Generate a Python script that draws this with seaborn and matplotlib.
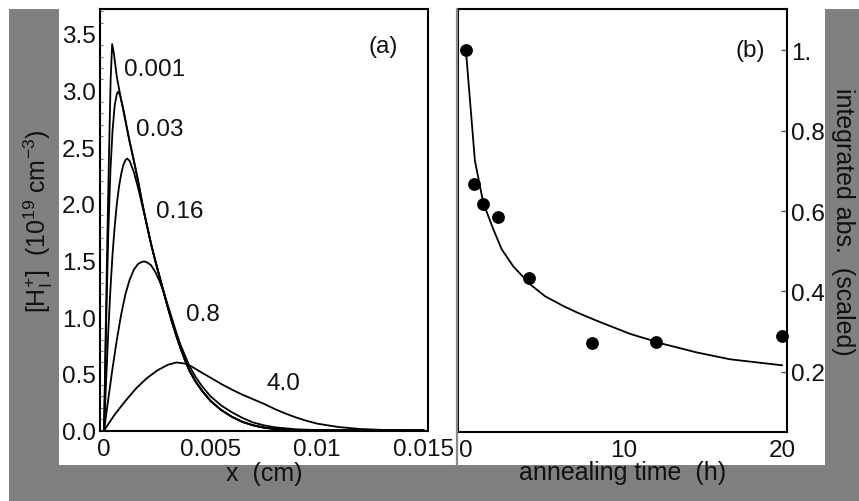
import numpy as np
import pandas as pd
import matplotlib
matplotlib.use("Agg")
import matplotlib.pyplot as plt
import seaborn as sns
from matplotlib.patches import Rectangle
from matplotlib.lines import Line2D

# ---------------- data: panel (a) depth profiles ----------------
curve_labels = ["0.001", "0.03", "0.16", "0.8", "4.0"]

x_001 = [0, 0.00008, 0.00016, 0.00024, 0.00031, 0.00038, 0.00046, 0.0006, 0.0008, 0.001,
         0.0012, 0.0014, 0.0016, 0.0018, 0.002, 0.0022, 0.0024, 0.0026, 0.0028, 0.003,
         0.0032, 0.0034, 0.0036, 0.0038, 0.004, 0.0043, 0.0046, 0.005, 0.0055, 0.006,
         0.0065, 0.007, 0.0075, 0.008, 0.009, 0.01, 0.012, 0.015]
y_001 = [0, 0.9, 1.75, 2.5, 3.1, 3.41, 3.33, 3.12, 2.92, 2.74,
         2.55, 2.38, 2.20, 2.00, 1.82, 1.65, 1.50, 1.36, 1.22, 1.08,
         0.95, 0.83, 0.72, 0.62, 0.53, 0.43, 0.35, 0.26, 0.18, 0.12,
         0.075, 0.045, 0.025, 0.013, 0.003, 0.0005, 0, 0]

x_003 = [0, 0.0001, 0.0002, 0.0003, 0.0004, 0.0005, 0.0006, 0.00066, 0.00075, 0.0009,
         0.0011, 0.0012, 0.0014, 0.0016, 0.0018, 0.002, 0.0022, 0.0024, 0.0026, 0.0028,
         0.003, 0.0032, 0.0034, 0.0036, 0.0038, 0.004, 0.0043, 0.0046, 0.005, 0.0055,
         0.006, 0.0065, 0.007, 0.0075, 0.008, 0.009, 0.01, 0.012, 0.015]
y_003 = [0, 0.95, 1.75, 2.3, 2.65, 2.87, 2.97, 2.99, 2.96, 2.84,
         2.64, 2.55, 2.38, 2.20, 2.00, 1.82, 1.65, 1.50, 1.36, 1.22,
         1.08, 0.95, 0.83, 0.72, 0.62, 0.53, 0.43, 0.35, 0.26, 0.18,
         0.12, 0.075, 0.045, 0.025, 0.013, 0.003, 0.0005, 0, 0]

x_016 = [0, 0.0001, 0.0002, 0.0003, 0.0004, 0.0005, 0.0006, 0.0007, 0.0008, 0.0009,
         0.001, 0.00108, 0.0012, 0.0014, 0.0016, 0.0018, 0.002, 0.0022, 0.0024, 0.0026,
         0.0028, 0.003, 0.0032, 0.0034, 0.0036, 0.0038, 0.004, 0.0043, 0.0046, 0.005,
         0.0055, 0.006, 0.0065, 0.007, 0.0075, 0.008, 0.009, 0.01, 0.012, 0.015]
y_016 = [0, 0.45, 0.88, 1.25, 1.56, 1.80, 2.00, 2.15, 2.26, 2.34,
         2.385, 2.40, 2.38, 2.28, 2.14, 1.98, 1.82, 1.65, 1.50, 1.36,
         1.22, 1.08, 0.95, 0.83, 0.72, 0.62, 0.53, 0.43, 0.35, 0.26,
         0.18, 0.12, 0.075, 0.045, 0.025, 0.013, 0.003, 0.0005, 0, 0]

x_08 = [0, 0.0002, 0.0004, 0.0006, 0.0008, 0.001, 0.0012, 0.0014, 0.0016, 0.0018,
        0.00192, 0.002, 0.0022, 0.0024, 0.0026, 0.0028, 0.003, 0.0032, 0.0034, 0.0036,
        0.0038, 0.004, 0.0043, 0.0046, 0.005, 0.0055, 0.006, 0.0065, 0.007, 0.0075,
        0.008, 0.009, 0.01, 0.012, 0.015]
y_08 = [0, 0.28, 0.55, 0.80, 1.02, 1.20, 1.33, 1.42, 1.47, 1.49,
        1.49, 1.485, 1.46, 1.40, 1.32, 1.22, 1.10, 0.98, 0.86, 0.75,
        0.66, 0.57, 0.47, 0.39, 0.30, 0.22, 0.16, 0.11, 0.07, 0.045,
        0.028, 0.01, 0.003, 0, 0]

x_40 = [0, 0.0005, 0.001, 0.0015, 0.002, 0.0025, 0.003, 0.0034, 0.0038, 0.0041,
        0.0045, 0.005, 0.0055, 0.006, 0.0065, 0.007, 0.0075, 0.008, 0.0085, 0.009,
        0.0095, 0.01, 0.011, 0.012, 0.013, 0.015]
y_40 = [0, 0.14, 0.26, 0.37, 0.46, 0.53, 0.58, 0.60, 0.59, 0.565,
        0.52, 0.465, 0.41, 0.36, 0.315, 0.275, 0.235, 0.19, 0.15, 0.115,
        0.085, 0.06, 0.03, 0.013, 0.005, 0.0]

curve_x = [x_001, x_003, x_016, x_08, x_40]
curve_y = [y_001, y_003, y_016, y_08, y_40]
label_pos_x = [0.00239, 0.00263, 0.00357, 0.00465, 0.0084]
label_pos_y = [3.19, 2.66, 1.94, 1.03, 0.42]

xticks_a = [0, 0.005, 0.01, 0.015]
xticklabels_a = ["0", "0.005", "0.01", "0.015"]
yticks_a = [0.0, 0.5, 1.0, 1.5, 2.0, 2.5, 3.0, 3.5]
yticklabels_a = ["0.0", "0.5", "1.0", "1.5", "2.0", "2.5", "3.0", "3.5"]

# ---------------- data: panel (b) annealing ----------------
t_pts = [0, 0.5, 1.05, 2.0, 4.0, 8.0, 12.0, 20.0]
a_pts = [1.0, 0.667, 0.617, 0.585, 0.433, 0.271, 0.274, 0.289]
t_fit = [0, 0.57, 1.1, 1.73, 2.26, 3.0, 4.05, 5.0, 6.14, 7.0, 8.27, 10.4, 12.5, 14.6, 16.7, 20.0]
a_fit = [1.0, 0.725, 0.62, 0.555, 0.505, 0.462, 0.418, 0.388, 0.364, 0.348, 0.327, 0.294,
         0.269, 0.248, 0.231, 0.216]
xticks_b = [0, 10, 20]
xticklabels_b = ["0", "10", "20"]
yticks_b = [0.2, 0.4, 0.6, 0.8, 1.0]
yticklabels_b = ["0.2", "0.4", "0.6", "0.8", "1."]

# ---------------- style ----------------
sns.set_theme(style="white")
plt.rcParams["font.family"] = ["Liberation Sans", "DejaVu Sans"]
plt.rcParams["mathtext.fontset"] = "custom"
plt.rcParams["mathtext.rm"] = "Liberation Sans"
plt.rcParams["mathtext.it"] = "Liberation Sans:italic"
plt.rcParams["mathtext.bf"] = "Liberation Sans:bold"

W, H = 859, 502
fig = plt.figure(figsize=(W / 100, H / 100), dpi=100, facecolor="white")

def fy(py):
    return 1 - py / H

GRAY = "#808080"
fig.patches.append(Rectangle((9 / W, 0), 850 / W, 492 / H, transform=fig.transFigure,
                             facecolor=GRAY, edgecolor="none", zorder=-10))
fig.patches.append(Rectangle((59 / W, fy(466)), 766 / W, 456 / H, transform=fig.transFigure,
                             facecolor="white", edgecolor="none", zorder=-9))
fig.add_artist(Line2D([457 / W, 457 / W], [fy(466), fy(10)], color="#8a8a8a", lw=1.6,
                      transform=fig.transFigure))

ax_a = fig.add_axes([100 / W, fy(432), 328 / W, 422 / H])
ax_b = fig.add_axes([458 / W, fy(433), 329 / W, 423 / H])

TICK_FS = 17.5
LAB_FS = 18

# ---- panel a ----
frames = []
for lab, xs, ys in zip(curve_labels, curve_x, curve_y):
    frames.append(pd.DataFrame({"x": xs, "y": ys, "curve": lab}))
df_a = pd.concat(frames, ignore_index=True)
sns.lineplot(data=df_a, x="x", y="y", units="curve", estimator=None, sort=False,
             color="black", lw=1.3, ax=ax_a, legend=False)
for lab, lx, ly in zip(curve_labels, label_pos_x, label_pos_y):
    ax_a.text(lx, ly, lab, fontsize=TICK_FS, ha="center", va="center", color="#111111")
ax_a.text(0.0131, 3.39, "(a)", fontsize=TICK_FS, ha="center", va="center", color="#111111")

ax_a.set_xlim(-0.00019, 0.0152)
ax_a.set_ylim(-0.005, 3.72)
ax_a.set_xticks(xticks_a)
ax_a.set_xticklabels(xticklabels_a)
ax_a.set_yticks(yticks_a)
ax_a.set_yticklabels(yticklabels_a)
ax_a.set_yticks(np.arange(0, 3.75, 0.1), minor=True)
ax_a.tick_params(axis="both", which="major", direction="in", length=4, width=1,
                 color="#555555", labelsize=TICK_FS, labelcolor="#111111", pad=3)
ax_a.tick_params(axis="x", which="major", pad=5)
ax_a.tick_params(axis="y", which="minor", direction="in", length=2.5, width=0.8,
                 color="#777777", left=True)
ax_a.set_xlabel("x  (cm)", fontsize=LAB_FS, labelpad=1, color="#111111")
ax_a.set_ylabel(r"[H$_{\mathrm{I}}^{+}$]  (10$^{19}$ cm$^{-3}$)", fontsize=LAB_FS,
                labelpad=5, color="#111111")

# ---- panel b ----
df_fit = pd.DataFrame({"t": t_fit, "a": a_fit})
df_pts = pd.DataFrame({"t": t_pts, "a": a_pts})
sns.lineplot(data=df_fit, x="t", y="a", sort=False, estimator=None, color="black", lw=1.3,
             ax=ax_b)
sns.scatterplot(data=df_pts, x="t", y="a", color="black", s=85, edgecolor="black",
                linewidth=0, ax=ax_b, zorder=3, clip_on=False)
ax_b.text(18.0, 1.0, "(b)", fontsize=TICK_FS, ha="center", va="center", color="#111111")
ax_b.set_xlim(-0.5, 20.3)
ax_b.set_ylim(0.05, 1.103)
ax_b.set_xticks(xticks_b)
ax_b.set_xticklabels(xticklabels_b)
ax_b.set_yticks(yticks_b)
ax_b.set_yticklabels(yticklabels_b)
ax_b.yaxis.tick_right()
ax_b.yaxis.set_label_position("right")
ax_b.tick_params(axis="both", which="major", direction="in", length=4, width=1,
                 color="#555555", labelsize=TICK_FS, labelcolor="#111111", pad=3)
ax_b.tick_params(axis="x", which="major", pad=5)
ax_b.set_xlabel("annealing time  (h)", fontsize=LAB_FS, labelpad=-1, color="#111111")
ax_b.set_ylabel("integrated abs.  (scaled)", fontsize=LAB_FS, rotation=-90, va="bottom",
                labelpad=4, color="#111111")

for ax in (ax_a, ax_b):
    ax.set_facecolor("white")
    for sp in ax.spines.values():
        sp.set_visible(True)
        sp.set_color("black")
        sp.set_linewidth(1.5)

fig.savefig("out.png", dpi=100, facecolor="white")
